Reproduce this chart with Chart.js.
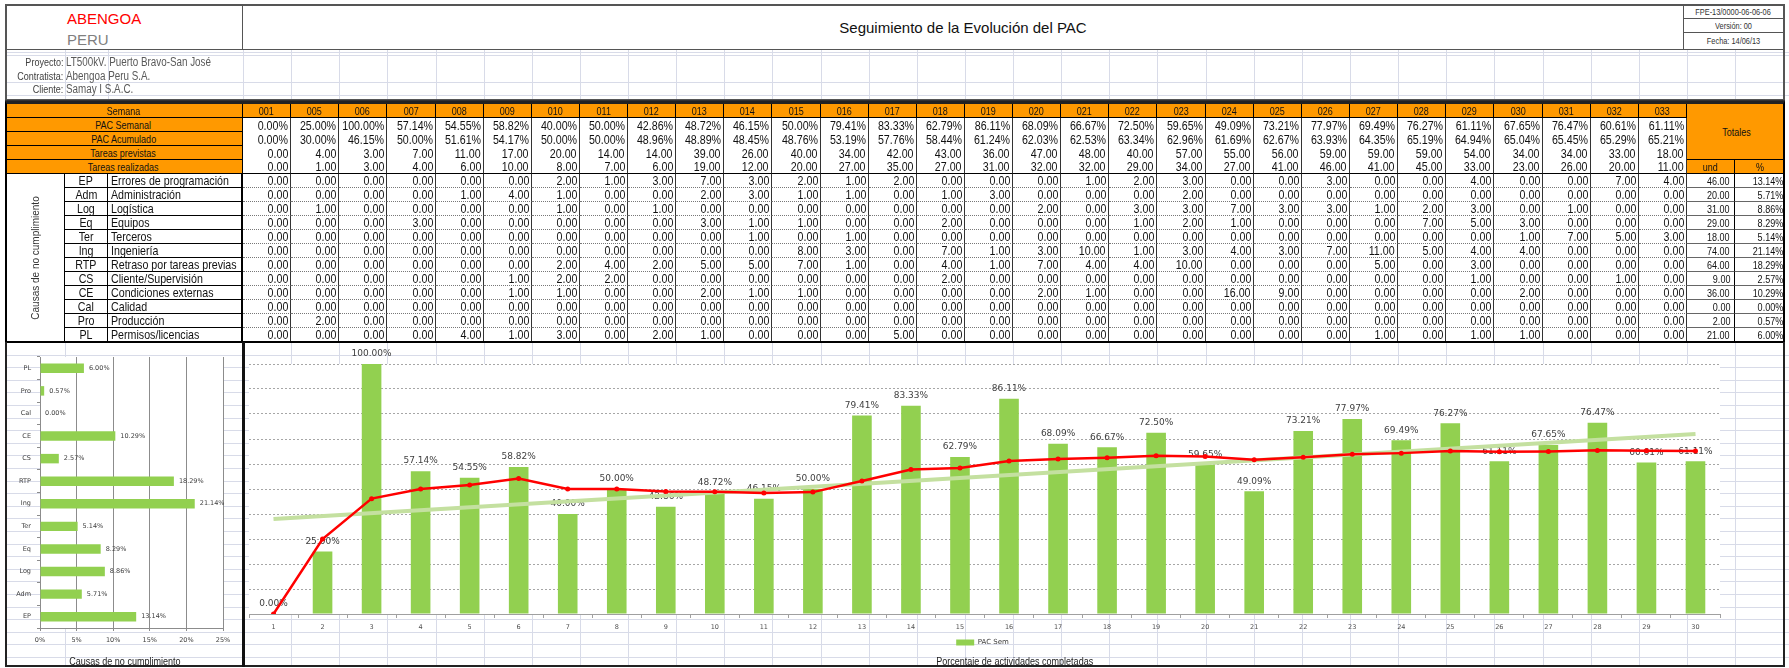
<!DOCTYPE html>
<html lang="es"><head><meta charset="utf-8"><title>Seguimiento de la Evolución del PAC</title>
<script src="https://cdn.jsdelivr.net/npm/chart.js@4.4.1/dist/chart.umd.min.js"></script>
<style>
html,body{margin:0;padding:0;background:#fff;}
#root{position:relative;width:1789px;height:668px;overflow:hidden;}
.a{position:absolute;box-sizing:border-box;display:flex;align-items:center;white-space:nowrap;}
.n{font-family:"Liberation Sans Narrow","Arial Narrow",sans-serif;}
.r{font-family:"Liberation Sans",Arial,sans-serif;}
canvas{position:absolute;}
</style></head><body><div id="root"><canvas id="bg" width="1789" height="668" style="left:0;top:0;z-index:0"></canvas>
<canvas id="cLeft" width="236" height="323" style="left:7px;top:343px;z-index:1"></canvas>
<canvas id="cMain" width="1539" height="323" style="left:245px;top:343px;z-index:1"></canvas>
</div>
<script>
// ---------------- DATA ----------------
const weeks = ['001','005','006','007','008','009','010','011','012','013','014','015','016','017','018','019','020','021','022','023','024','025','026','027','028','029','030','031','032','033'];
const pacSemanal = [0.00,25.00,100.00,57.14,54.55,58.82,40.00,50.00,42.86,48.72,46.15,50.00,79.41,83.33,62.79,86.11,68.09,66.67,72.50,59.65,49.09,73.21,77.97,69.49,76.27,61.11,67.65,76.47,60.61,61.11];
const pacAcumulado = [0.00,30.00,46.15,50.00,51.61,54.17,50.00,50.00,48.96,48.89,48.45,48.76,53.19,57.76,58.44,61.24,62.03,62.53,63.34,62.96,61.69,62.67,63.93,64.35,65.19,64.94,65.04,65.45,65.29,65.21];
const tareasPrevistas = [0,4,3,7,11,17,20,14,14,39,26,40,34,42,43,36,47,48,40,57,55,56,59,59,59,54,34,34,33,18];
const tareasRealizadas = [0,1,3,4,6,10,8,7,6,19,12,20,27,35,27,31,32,32,29,34,27,41,46,41,45,33,23,26,20,11];

const causeCodes = ['EP','Adm','Log','Eq','Ter','Ing','RTP','CS','CE','Cal','Pro','PL'];
const causeNames = ['Errores de programación','Administración','Logística','Equipos','Terceros','Ingeniería','Retraso por tareas previas','Cliente/Supervisión','Condiciones externas','Calidad','Producción','Permisos/licencias'];
const causeEP  = [0,0,0,0,0,0,2,1,3,7,3,2,1,2,0,0,0,1,2,3,0,0,3,0,0,4,0,0,7,4];
const causeAdm = [0,0,0,0,1,4,1,0,0,2,3,1,1,0,1,3,0,0,0,2,0,0,0,0,0,0,0,0,0,0];
const causeLog = [0,1,0,0,0,0,1,0,1,0,0,0,0,0,0,0,2,0,3,3,7,3,3,1,2,3,0,1,0,0];
const causeEq  = [0,0,0,3,0,0,0,0,0,3,1,1,0,0,2,0,0,0,1,2,1,0,0,0,7,5,3,0,0,0];
const causeTer = [0,0,0,0,0,0,0,0,0,0,1,0,1,0,0,0,0,0,0,0,0,0,0,0,0,0,1,7,5,3];
const causeIng = [0,0,0,0,0,0,0,0,0,0,0,8,3,0,7,1,3,10,1,3,4,3,7,11,5,4,4,0,0,0];
const causeRTP = [0,0,0,0,0,0,2,4,2,5,5,7,1,0,4,1,7,4,4,10,0,0,0,5,0,3,0,0,0,0];
const causeCS  = [0,0,0,0,0,1,2,2,0,0,0,0,0,0,2,0,0,0,0,0,0,0,0,0,0,1,0,0,1,0];
const causeCE  = [0,0,0,0,0,1,1,0,0,2,1,1,0,0,0,0,2,1,0,0,16,9,0,0,0,0,2,0,0,0];
const causeCal = [0,0,0,0,0,0,0,0,0,0,0,0,0,0,0,0,0,0,0,0,0,0,0,0,0,0,0,0,0,0];
const causePro = [0,2,0,0,0,0,0,0,0,0,0,0,0,0,0,0,0,0,0,0,0,0,0,0,0,0,0,0,0,0];
const causePL  = [0,0,0,0,4,1,3,0,2,1,0,0,0,5,0,0,0,0,0,0,0,0,0,1,0,1,1,0,0,0];
const causeTotals = [46,20,31,29,18,74,64,9,36,0,2,21];
const causePct = [13.14,5.71,8.86,8.29,5.14,21.14,18.29,2.57,10.29,0.00,0.57,6.00];

const xTickLabels = ['1','2','3','4','5','6','7','8','9','10','11','12','13','14','15','16','17','18','19','20','21','22','23','24','25','26','27','28','29','30'];
const leftTickPct = ['0%','5%','10%','15%','20%','25%'];
const trendEnds = [38.0, 72.0]; // trend line read at first and last week

const causeRows = [causeEP,causeAdm,causeLog,causeEq,causeTer,causeIng,causeRTP,causeCS,causeCE,causeCal,causePro,causePL];

// ---------------- HELPERS ----------------
const root = document.getElementById('root');
const NARROW = (function(){
  const c=document.createElement('canvas').getContext('2d'); const t='abcdefghijklmnopqrstuvwxyz0123456789%ABC';
  c.font='20px monospace'; const a=c.measureText(t).width; c.font='20px "Liberation Sans Narrow", monospace'; const b=c.measureText(t).width;
  c.font='20px serif'; const a2=c.measureText(t).width; c.font='20px "Liberation Sans Narrow", serif'; const b2=c.measureText(t).width;
  return (a!==b)||(a2!==b2);
})();
if(!NARROW){ document.querySelectorAll('style')[0].textContent += '.n{font-family:"Liberation Sans",Arial,sans-serif;}'; }
function cell(x,y,w,h,text,o){
  o=o||{};
  const d=document.createElement('div'); const cls=o.cls||'n'; d.className='a '+cls;
  d.style.left=x+'px'; d.style.top=y+'px'; d.style.width=w+'px'; d.style.height=h+'px';
  d.style.justifyContent = o.align==='right'?'flex-end':(o.align==='left'?'flex-start':'center');
  if(o.bg) d.style.background=o.bg;
  d.style.fontSize=(o.fs||13)+'px';
  d.style.color=o.color||'#111';
  if(o.br) d.style.borderRight=o.br; if(o.bb) d.style.borderBottom=o.bb; if(o.bl) d.style.borderLeft=o.bl; if(o.bt) d.style.borderTop=o.bt;
  if(o.pad!=null){ if(o.align==='right') d.style.paddingRight=o.pad+'px'; else d.style.paddingLeft=o.pad+'px'; }
  d.style.zIndex = o.z!=null?o.z:2;
  if(text!=null && text!==''){
    const s=document.createElement('span'); s.textContent=text;
    if(!NARROW && cls==='n'){ s.style.display='inline-block'; s.style.transform='scaleX(0.82)'; s.style.transformOrigin= o.align==='right'?'right center':(o.align==='left'?'left center':'center'); }
    d.appendChild(s);
  }
  root.appendChild(d); return d;
}

// ---------------- BACKGROUND SPREADSHEET GRID ----------------
const X0=243, CW=48.13;
const cx = i => Math.round(X0 + i*CW);
(function(){
  const g=document.getElementById('bg').getContext('2d');
  g.strokeStyle='#d8dbe8'; g.lineWidth=1;
  const hl=(y,x0,x1)=>{g.beginPath();g.moveTo(x0,Math.round(y)+0.5);g.lineTo(x1,Math.round(y)+0.5);g.stroke();};
  const vl=(x,y0,y1)=>{g.beginPath();g.moveTo(Math.round(x)+0.5,y0);g.lineTo(Math.round(x)+0.5,y1);g.stroke();};
  [52,55,82,95].forEach(y=>hl(y,5,1789));
  vl(65,49,99); vl(108,49,99); for(let k=0;k<=32;k++) vl(X0+k*CW,49,99);
  for(let k=1;k<26;k++) hl(342+k*12.6,5,1789);
  vl(65,342,666); for(let k=0;k<=32;k++) vl(X0+k*CW,342,666);
})();

// ---------------- HEADER ----------------
cell(5,4,1780,46,null,{bt:'2px solid #555',bl:'2px solid #555',br:'2px solid #555',bb:'1px solid #555',bg:'#fff',z:1});
cell(7,6,236,43,null,{br:'1px solid #555',z:2});
cell(67,9,150,18,'ABENGOA',{cls:'r',fs:15,color:'#ff0000',align:'left'});
cell(67,30,150,18,'PERU',{cls:'r',fs:15,color:'#7f7f7f',align:'left'});
cell(243,6,1440,43,'Seguimiento de la Evolución del PAC',{cls:'r',fs:15,color:'#111'});
cell(1683,6,100,13,'FPE-13/0000-06-06-06',{fs:9,color:'#333',bl:'1px solid #555',bb:'1px solid #555'});
cell(1683,19,100,14,'Versión: 00',{fs:9,color:'#333',bl:'1px solid #555',bb:'1px solid #555'});
cell(1683,33,100,16,'Fecha: 14/06/13',{fs:9,color:'#333',bl:'1px solid #555'});
// info area
cell(5,49,1780,51,null,{bl:'2px solid #555',br:'2px solid #555',bb:'1px solid #555',z:1});
cell(7,55,57,14,'Proyecto:',{fs:11,color:'#404040',align:'right',pad:1});
cell(7,69,57,14,'Contratista:',{fs:11,color:'#404040',align:'right',pad:1});
cell(7,82,57,14,'Cliente:',{fs:11,color:'#404040',align:'right',pad:1});
cell(66,55,300,14,'LT500kV. Puerto Bravo-San José',{fs:12,color:'#595959',align:'left'});
cell(66,69,300,14,'Abengoa Peru S.A.',{fs:12,color:'#595959',align:'left'});
cell(66,82,300,14,'Samay I S.A.C.',{fs:12,color:'#595959',align:'left'});

// ---------------- TABLE ----------------
const OR='#ff9900';
const T0=104, RH=14;
cell(5,100,1780,4,null,{bg:'#333'});
const topLabels=['Semana','PAC Semanal','PAC Acumulado','Tareas previstas','Tareas realizadas'];
const topRows=[weeks, pacSemanal.map(v=>v.toFixed(2)+'%'), pacAcumulado.map(v=>v.toFixed(2)+'%'), tareasPrevistas.map(v=>v.toFixed(2)), tareasRealizadas.map(v=>v.toFixed(2))];
topLabels.forEach((lab,r)=>{
  const y=T0+r*RH;
  cell(5,y,238,RH,lab,{bg:OR,fs:11,bb:'1px solid #000',br:'1px solid #000'});
  for(let i=0;i<30;i++){
    const x=cx(i), w=cx(i+1)-x;
    if(r===0) cell(x,y,w,RH,topRows[0][i],{bg:OR,fs:11,bb:'1px solid #000',br:'1px solid #000'});
    else cell(x,y,w,RH,topRows[r][i],{align:'right',pad:2,fs:13,br:'1px solid #333',bb: r===4?'1px solid #000':null});
  }
});
const xT=cx(30);
cell(xT,T0,1785-xT,4*RH,'Totales',{bg:OR,fs:11,bb:'1px solid #000'});
cell(xT,T0+4*RH,48,RH,'und',{bg:OR,fs:11,bb:'1px solid #000',br:'1px solid #000'});
cell(xT+48,T0+4*RH,1785-xT-48,RH,'%',{bg:OR,fs:11,bb:'1px solid #000'});
const C0=T0+5*RH;
cell(5,C0,60,12*RH,null,{br:'1px solid #000',bg:'#fff'});
causeCodes.forEach((code,r)=>{
  const y=C0+r*RH;
  cell(65,y,43,RH,code,{fs:13,br:'1px solid #000',bb:'1px solid #000'});
  cell(108,y,135,RH,causeNames[r],{align:'left',pad:3,fs:13,br:'2px solid #000',bb:'1px solid #000'});
  for(let i=0;i<30;i++){
    const x=cx(i), w=cx(i+1)-x;
    cell(x,y,w,RH,causeRows[r][i].toFixed(2),{align:'right',pad:2,fs:13,br:'1px solid #333',bb:'1px dotted #777'});
  }
  cell(xT,y,48,RH,causeTotals[r].toFixed(2),{align:'right',pad:4,fs:11,br:'1px solid #000',bb:'1px solid #666'});
  cell(xT+48,y,1785-xT-48,RH,causePct[r].toFixed(2)+'%',{align:'right',pad:2,fs:11,bb:'1px solid #666'});
});
(function(){
  const v=document.createElement('div'); v.className='r';
  v.style.cssText='position:absolute;left:35px;top:258px;transform:translate(-50%,-50%) rotate(-90deg);font-size:10px;color:#333;white-space:nowrap;z-index:3';
  v.textContent='Causas de no cumplimiento'; root.appendChild(v);
})();
// outer table border
(function(){const d=document.createElement('div');d.style.cssText='position:absolute;left:5px;top:101px;width:1780px;height:242px;box-sizing:border-box;border:2px solid #000;border-top:3px solid #222;z-index:4;pointer-events:none';root.appendChild(d);})();

// chart region frames
(function(){
  const d=document.createElement('div');d.style.cssText='position:absolute;left:5px;top:342px;width:1780px;height:325px;box-sizing:border-box;border:2px solid #222;border-top:none;z-index:4;pointer-events:none';root.appendChild(d);
  const e=document.createElement('div');e.style.cssText='position:absolute;left:242px;top:342px;width:3px;height:325px;background:#111;z-index:4';root.appendChild(e);
})();
cell(7,655,236,12,'Causas de no cumplimiento',{fs:11,color:'#222'});
cell(245,655,1539,12,'Porcentaje de actividades completadas',{fs:11,color:'#222'});

// ---------------- CHARTS ----------------
Chart.defaults.font.family='"DejaVu Sans", sans-serif';
const plotWhite={id:'plotWhite',beforeDraw(chart){const a=chart.chartArea,c=chart.ctx;c.save();c.fillStyle='#fff';c.fillRect(a.left,a.top,a.right-a.left,a.bottom-a.top);c.restore();}};

// Left horizontal bar chart (top: PL ... bottom: EP)
const leftLabels = causeCodes.slice().reverse();
const leftValues = causePct.slice().reverse();
const leftLabelsPlugin={id:'leftLabels',afterDatasetsDraw(chart){
  const c=chart.ctx, meta=chart.getDatasetMeta(0);
  c.save(); c.font='6.5px "DejaVu Sans"'; c.fillStyle='#404040'; c.textAlign='left'; c.textBaseline='middle';
  meta.data.forEach((el,i)=>{ c.fillText(leftValues[i].toFixed(2)+'%', el.x+5, el.y); });
  c.restore();
}};
new Chart(document.getElementById('cLeft'),{
  type:'bar',
  data:{labels:leftLabels,datasets:[{label:'Causas',data:leftValues,backgroundColor:'#92d050',barPercentage:0.42,categoryPercentage:1}]},
  options:{indexAxis:'y',responsive:false,animation:false,devicePixelRatio:1,
    layout:{padding:{left:0,right:20,top:14,bottom:18}},
    plugins:{legend:{display:false},tooltip:{enabled:false}},
    scales:{
      x:{min:0,max:25,ticks:{stepSize:5,callback:(v,i)=>leftTickPct[i],font:{size:6.5},color:'#404040',padding:5,maxRotation:0},
         grid:{color:'#8c8c8c',tickLength:3},border:{color:'#8c8c8c'},afterFit(s){s.height=20;}},
      y:{grid:{offset:true,drawOnChartArea:false,tickLength:3,color:'#8c8c8c'},border:{color:'#8c8c8c'},
         ticks:{font:{size:6.5},color:'#404040',padding:6},afterFit(s){s.width=33;}}
    }
  },
  plugins:[plotWhite,leftLabelsPlugin]
});

// Main combo chart
const trendLine = pacSemanal.map(()=>null); trendLine[0]=trendEnds[0]; trendLine[trendLine.length-1]=trendEnds[1];
const barLabels={id:'barLabels',afterDatasetDraw(chart,args){
  if(args.index!==0) return;
  const c=chart.ctx; c.save(); c.font='9px "DejaVu Sans"'; c.fillStyle='#404040'; c.textAlign='center'; c.textBaseline='middle';
  args.meta.data.forEach((el,i)=>{ c.fillText(pacSemanal[i].toFixed(2)+'%', el.x, el.y-10); });
  c.restore();
}};
new Chart(document.getElementById('cMain'),{
  data:{labels:xTickLabels,datasets:[
    {type:'bar',label:'PAC Sem',data:pacSemanal,backgroundColor:'#92d050',barPercentage:0.4,categoryPercentage:1,order:3},
    {type:'line',label:'Tendencia',data:trendLine,borderColor:'#c4e0a0',borderWidth:4,pointRadius:0,spanGaps:true,order:2},
    {type:'line',label:'PAC Acumulado',data:pacAcumulado,borderColor:'#ff0000',backgroundColor:'#ff0000',borderWidth:2.5,pointRadius:2.5,pointBorderWidth:0,order:1}
  ]},
  options:{responsive:false,animation:false,devicePixelRatio:1,
    layout:{padding:{left:0,right:64,top:21,bottom:10}},
    plugins:{tooltip:{enabled:false},
      legend:{position:'bottom',labels:{filter:(it)=>it.datasetIndex===0,boxWidth:18,boxHeight:6,padding:7,font:{size:7},color:'#404040'}}},
    scales:{
      x:{offset:true,grid:{offset:true,drawOnChartArea:false,tickLength:4,color:'#a0a0a0'},border:{color:'#a0a0a0'},
         ticks:{font:{size:6.5},color:'#505050',padding:5,maxRotation:0,autoSkip:false},afterFit(s){s.height=18;}},
      y:{min:0,max:100,ticks:{display:false,stepSize:10},grid:{color:'#a6a6a6',drawTicks:false},border:{display:false,dash:[2,2]},afterFit(s){s.width=0;}}
    }
  },
  plugins:[plotWhite,barLabels]
});
</script></body></html>
